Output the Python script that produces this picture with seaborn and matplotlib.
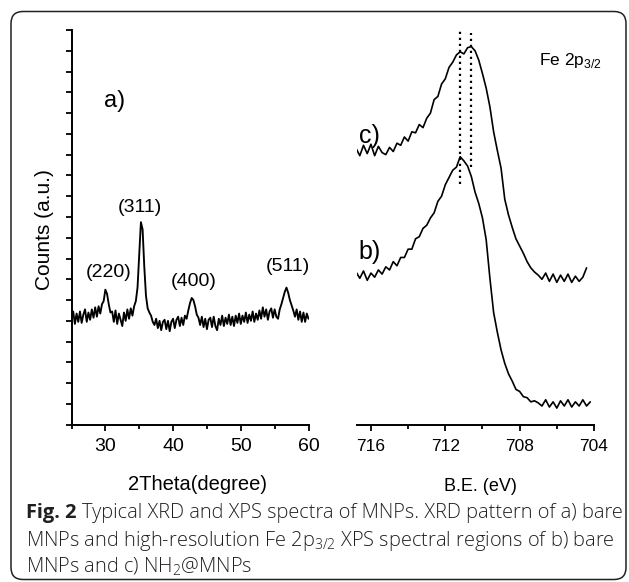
import matplotlib
matplotlib.use("Agg")
import matplotlib.pyplot as plt
import numpy as np
import pandas as pd
import seaborn as sns
from matplotlib.patches import FancyBboxPatch
from matplotlib.ticker import MultipleLocator

# a) XRD pattern of bare MNPs (arbitrary counts, read off the picture)
two_theta = np.linspace(25.0, 60.0, 141)
xrd_counts = [
    5.05, 5.45, 4.85, 5.35, 4.95, 5.45, 4.90, 5.30, 5.55, 4.95, 5.40, 5.05, 5.55,
    5.15, 5.65, 5.20, 5.70, 5.35, 5.80,
    5.95, 6.50, 6.30, 5.80, 5.40,
    5.45, 4.95, 5.50, 4.85, 5.35, 5.05, 4.75, 5.40, 5.00, 5.55, 5.10, 5.60, 5.25, 5.70, 5.95,
    6.60, 8.20, 9.75, 9.40, 7.60, 6.20, 5.60, 5.40,
    5.25, 4.95, 4.80, 5.10, 4.65, 5.00, 4.55, 4.95, 5.05, 4.60, 5.00, 4.50, 4.95, 5.10,
    4.65, 5.05, 5.20, 4.75, 5.15, 4.80, 5.25, 5.10, 5.50,
    5.85, 6.10, 6.00, 5.70, 5.30, 5.15,
    4.80, 5.20, 4.70, 5.10, 4.60, 5.05, 5.15, 4.70, 5.20, 4.75, 4.55, 5.10, 4.80, 5.25,
    4.75, 5.15, 4.85, 5.30, 4.80, 5.20, 4.75, 5.25, 4.90, 5.35, 4.85, 5.25, 4.95, 5.40,
    4.90, 5.30, 5.00, 5.45, 4.95, 5.35, 5.05,
    5.50, 5.10, 5.65, 5.20, 5.55, 5.05, 5.45, 5.60, 5.15, 5.55, 5.20, 5.10, 5.55, 5.80,
    6.10, 6.40, 6.60, 6.35, 6.00, 5.75, 5.50,
    5.20, 5.55, 5.05, 5.45, 4.95, 5.40, 4.95, 5.35, 5.10,
]
peak_names = ["(220)", "(311)", "(400)", "(511)"]
peak_text_x = [30.5, 35.1, 43.1, 57.0]
peak_text_y = [7.35, 10.45, 6.87, 7.6]

# XPS Fe 2p3/2: c) NH2@MNPs (upper), b) bare MNPs (lower)
be_c = np.linspace(716.8, 704.4, 63)
xps_c = [
    13.30, 12.95, 13.45, 13.05, 13.50, 12.95, 13.40, 13.10, 13.00, 13.35,
    13.15, 13.55, 13.45, 13.85, 13.65, 14.10, 14.05, 14.45, 14.30, 14.75,
    15.00, 15.65, 15.80, 16.40, 16.65, 17.20, 17.45, 17.80, 17.95, 17.85,
    18.15, 18.20, 18.00, 17.55, 16.90, 16.20, 15.30, 14.10, 13.20, 12.35,
    10.85, 10.10, 9.50, 8.95, 8.60, 8.25, 7.85, 7.55, 7.35, 7.20,
    7.00, 7.30, 6.90, 7.25, 6.85, 7.20, 6.90, 7.25, 6.85, 7.15,
    6.90, 7.10, 7.55,
]
be_b = np.linspace(716.8, 704.2, 64)
xps_b = [
    7.35, 7.05, 7.40, 6.95, 7.30, 7.10, 7.45, 7.25, 7.60, 7.45,
    7.85, 7.65, 8.05, 8.05, 8.45, 8.45, 8.95, 9.05, 9.45, 9.60,
    9.95, 10.20, 10.75, 11.00, 11.55, 11.90, 12.25, 12.40, 12.90, 12.70,
    12.45, 11.95, 11.20, 10.65, 9.95, 8.90, 7.05, 5.40, 4.45, 3.60,
    2.95, 2.45, 2.10, 1.70, 1.60, 1.35, 1.30, 1.10, 1.15, 1.05,
    0.90, 1.20, 0.85, 1.10, 0.80, 1.15, 0.90, 1.20, 0.85, 1.10,
    0.90, 1.20, 0.90, 1.10,
]
peak_marks = [711.23, 710.6]
mark_top = [19.1, 18.85]
mark_bottom = [11.6, 12.4]

xrd_df = pd.DataFrame({"two_theta": two_theta, "counts": xrd_counts})
c_df = pd.DataFrame({"be": be_c, "counts": xps_c})
b_df = pd.DataFrame({"be": be_b, "counts": xps_b})

sns.set_theme(style="ticks")
plt.rcParams["font.family"] = ["Liberation Sans", "DejaVu Sans"]
plt.rcParams["text.color"] = "black"
plt.rcParams["axes.labelcolor"] = "black"
plt.rcParams["xtick.color"] = "black"
plt.rcParams["ytick.color"] = "black"

W, H = 629, 582
fig = plt.figure(figsize=(W / 100, H / 100), dpi=100)


def fx(px):
    return px / W


def fy(py):
    return 1 - py / H


ax1 = fig.add_axes([fx(71.5), fy(424.7), 237 / W, 394.7 / H])
ax2 = fig.add_axes([fx(357), fy(424.7), 237 / W, 394.7 / H])

# left panel: XRD
sns.lineplot(data=xrd_df, x="two_theta", y="counts", ax=ax1, color="black",
             linewidth=1.35, estimator=None, sort=False)
ax1.set_xlim(25, 60)
ax1.set_ylim(0, 19)
ax1.xaxis.set_major_locator(MultipleLocator(10))
ax1.xaxis.set_minor_locator(MultipleLocator(5))
ax1.yaxis.set_major_locator(MultipleLocator(1))
ax1.set_yticklabels([])
ax1.tick_params(axis="both", which="major", direction="out", length=4.5, width=1.3,
                color="black", labelsize=14, pad=5)
ax1.tick_params(axis="x", which="minor", direction="out", length=3, width=1.3, color="black")
ax1.tick_params(axis="y", which="major", length=4)
ax1.set_xticks([30, 40, 50, 60])
for s in ["top", "right"]:
    ax1.spines[s].set_visible(False)
for s in ["left", "bottom"]:
    ax1.spines[s].set_linewidth(1.4)
    ax1.spines[s].set_color("black")
ax1.set_xlabel("2Theta(degree)", fontsize=14.5)
ax1.xaxis.set_label_coords(0.53, -0.127)
ax1.xaxis.label.set_va("top")
ax1.set_ylabel("Counts (a.u.)", fontsize=15)
ax1.yaxis.set_label_coords(-0.075, 0.495)
ax1.text(31.3, 15.6, "a)", fontsize=17, ha="center", va="center")
for name, tx, ty in zip(peak_names, peak_text_x, peak_text_y):
    ax1.text(tx, ty, name, fontsize=14, ha="center", va="center")

# right panel: XPS
sns.lineplot(data=c_df, x="be", y="counts", ax=ax2, color="black",
             linewidth=1.2, estimator=None, sort=False)
sns.lineplot(data=b_df, x="be", y="counts", ax=ax2, color="black",
             linewidth=1.2, estimator=None, sort=False)
for xm, yt, yb in zip(peak_marks, mark_top, mark_bottom):
    ax2.plot([xm, xm], [yb, yt], color="black", linewidth=1.6,
             linestyle=(0, (1, 1.7)), clip_on=False)
ax2.set_xlim(716.75, 704)
ax2.set_ylim(0, 19)
ax2.set_xticks([716, 712, 708, 704])
ax2.xaxis.set_minor_locator(MultipleLocator(2))
ax2.set_yticks([])
ax2.tick_params(axis="x", which="major", direction="out", length=4.5, width=1.3,
                color="black", labelsize=12.5, pad=6)
ax2.tick_params(axis="x", which="minor", direction="out", length=3, width=1.3, color="black")
for s in ["top", "right", "left"]:
    ax2.spines[s].set_visible(False)
ax2.spines["bottom"].set_linewidth(1.4)
ax2.spines["bottom"].set_color("black")
ax2.set_xlabel("B.E. (eV)", fontsize=13)
ax2.xaxis.set_label_coords(0.519, -0.135)
ax2.xaxis.label.set_va("top")
ax2.set_ylabel("")
ax2.text(716.1, 13.9, "c)", fontsize=18, ha="center", va="center")
ax2.text(716.05, 8.3, "b)", fontsize=18, ha="center", va="center")
ax2.text(706.97, 17.55, r"Fe 2p$_{\mathregular{3/2}}$", fontsize=12.5, ha="left", va="center")

# outer rounded frame
frame = FancyBboxPatch((0.11, 0.025), 6.15, 5.68,
                       boxstyle="round,pad=0,rounding_size=0.12",
                       transform=fig.dpi_scale_trans, fill=False,
                       linewidth=1.1, edgecolor="#222222")
fig.add_artist(frame)

# caption
cap = dict(family=["Open Sans", "DejaVu Sans"], fontsize=14.4, color="#231f20", va="baseline")
fig.canvas.draw()
renderer = fig.canvas.get_renderer()
t0 = fig.text(fx(26), fy(518), "Fig. 2", fontweight="bold", **cap)
bb = t0.get_window_extent(renderer=renderer)
fig.text(bb.x1 / W + fx(5), fy(518),
         "Typical XRD and XPS spectra of MNPs. XRD pattern of a) bare",
         fontweight="light", **cap)
fig.text(fx(26), fy(546),
         r"MNPs and high-resolution Fe 2p$_{\mathregular{3/2}}$ XPS spectral regions of b) bare",
         fontweight="light", **cap)
fig.text(fx(26), fy(573), r"MNPs and c) NH$_{\mathregular{2}}$@MNPs",
         fontweight="light", **cap)

fig.savefig("out.png", dpi=100)
